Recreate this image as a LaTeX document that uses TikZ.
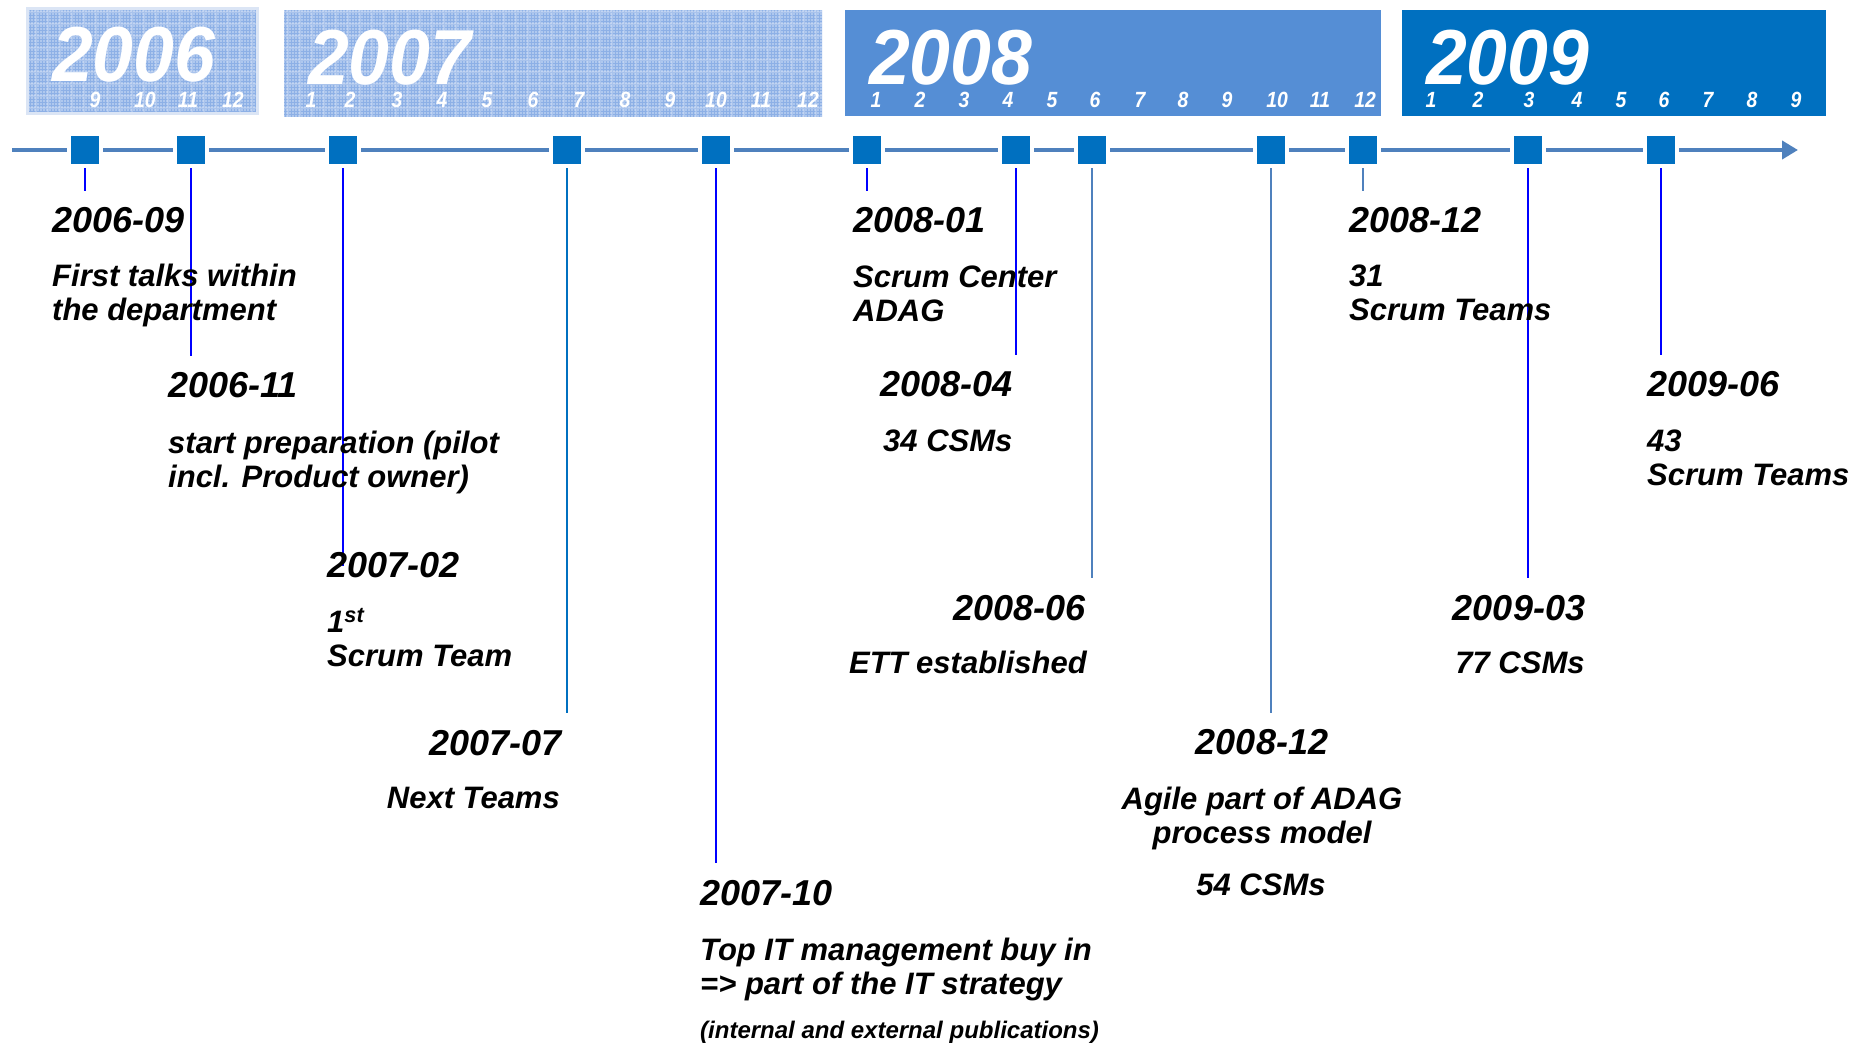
\documentclass[tikz,border=0pt]{standalone}
\usepackage{fontspec}
\setmainfont{Liberation Sans}
\usepackage{xcolor}
\usetikzlibrary{arrows.meta}

\definecolor{axisblue}{HTML}{4F81BD}
\definecolor{markblue}{HTML}{0070C0}
\definecolor{blueyear}{HTML}{558ED5}
\definecolor{paleblue}{HTML}{AFC8EE}
\definecolor{meshblue}{HTML}{8DB0E6}
\definecolor{rimblue}{HTML}{DBE5F5}
\definecolor{linkblue}{HTML}{0000FF}

\begin{document}
\begin{tikzpicture}[x=1pt,y=-1pt,
  msq/.style={draw=white,line width=4pt,fill=markblue,minimum size=32pt,inner sep=0pt},
  link/.style={line width=2pt},
  datelbl/.style={inner sep=0pt,font=\fontsize{36}{40}\selectfont\bfseries\itshape},
  desc/.style={inner sep=0pt,align=left,font=\fontsize{31}{34}\selectfont\bfseries\itshape},
  yearlbl/.style={inner sep=0pt,text depth=0pt,anchor=base west,text=white,font=\fontsize{78}{80}\selectfont\bfseries\itshape},
  monthlbl/.style={inner sep=0pt,text height=15pt,text depth=0pt,anchor=base,text=white,font=\fontsize{22}{24}\selectfont\bfseries\itshape}]
\useasboundingbox (0,0) rectangle (1873,1046);

% year bars
\fill[rimblue] (26,7) rectangle (259,115);
\foreach \xa/\ya/\xb/\yb in {29/10/256/112, 284/10/822/117}{
  \fill[paleblue] (\xa,\ya) rectangle (\xb,\yb);
  \begin{scope}
    \clip (\xa,\ya) rectangle (\xb,\yb);
    \draw[meshblue,line width=0.7pt,step=3pt] (\xa,\yb) grid (\xb,\ya);
    \draw[white,opacity=0.25,line width=2pt,step=12pt] (\xa,\yb) grid (\xb,\ya);
  \end{scope}
}
\fill[blueyear] (845,10) rectangle (1381,116);
\fill[markblue] (1402,10) rectangle (1826,116);

\foreach \yr/\x/\b in {2006/52/82, 2007/308/85, 2008/869/85, 2009/1426/85}
  \node[yearlbl] (yr\yr) at (\x,\b) {\scalebox{0.94}[1]{\yr}};

\foreach \yr/\m/\x in {6/9/95, 6/10/145, 6/11/188, 6/12/233,
    7/1/311, 7/2/350, 7/3/397, 7/4/442, 7/5/487, 7/6/533, 7/7/579, 7/8/625, 7/9/670, 7/10/716, 7/11/761, 7/12/808,
    8/1/876, 8/2/920, 8/3/964, 8/4/1008, 8/5/1052, 8/6/1095, 8/7/1140, 8/8/1183, 8/9/1227, 8/10/1277, 8/11/1320, 8/12/1365,
    9/1/1431, 9/2/1478, 9/3/1529, 9/4/1577, 9/5/1621, 9/6/1664, 9/7/1708, 9/8/1752, 9/9/1796}
  \node[monthlbl] (mo\yr-\m) at (\x,108) {\scalebox{0.88}[1]{\m}};

% time axis
\coordinate (axstart) at (12,150);
\coordinate (axend) at (1798,150);
\draw[axisblue,line width=4pt,-{Triangle[length=16pt,width=18pt]}] (axstart) -- (axend);

\foreach \i/\x in {1/84.5, 2/191, 3/343, 4/567, 5/715.5, 6/867, 7/1015.5, 8/1092, 9/1271, 10/1363, 11/1528, 12/1661}
  \node[msq] (m\i) at (\x,150) {};

\foreach \i/\e/\c in {1/191/linkblue, 2/356/linkblue, 3/566/linkblue, 4/713/markblue, 5/863/linkblue, 6/191/linkblue,
    7/355/linkblue, 8/578/axisblue, 9/713/axisblue, 10/191/axisblue, 11/578/linkblue, 12/355/linkblue}{
  \path (m\i.center) ++(0,\e-150) coordinate (e\i);
  \draw[link,\c] (m\i.south) -- (e\i);
}

% events (multi-line texts sit on the baseline of their last line)
\node[datelbl,anchor=base west] (d1) at (52,232) {2006-09};
\node[desc,anchor=base west] (t1) at (52,320) {First talks within\\the department};

\node[datelbl,anchor=base west] (d2) at (168,397) {2006-11};
\node[desc,anchor=base west] (t2) at (168,487) {start preparation (pilot\\incl. Product owner)};

\node[datelbl,anchor=base west] (d3) at (327,577) {2007-02};
\node[desc,anchor=base west] (t3) at (327,666) {1\textsuperscript{st}\\Scrum Team};

\node[datelbl,anchor=base east] (d4) at (562,755) {2007-07};
\node[desc,anchor=base east] (t4) at (560,808) {Next Teams};

\node[datelbl,anchor=base west] (d5) at (700,905) {2007-10};
\node[desc,anchor=base west] (t5) at (700,994) {Top IT management buy in\\=> part of the IT strategy};
\node[inner sep=0pt,anchor=base west,font=\fontsize{24}{26}\selectfont\bfseries\itshape] (p5) at (700,1038) {(internal and external publications)};

\node[datelbl,anchor=base west] (d6) at (853,232) {2008-01};
\node[desc,anchor=base west] (t6) at (853,321) {Scrum Center\\ADAG};

\node[datelbl,anchor=base west] (d7) at (880,396) {2008-04};
\node[desc,anchor=base west] (t7) at (883,451) {34 CSMs};

\node[datelbl,anchor=base east] (d8) at (1086,620) {2008-06};
\node[desc,anchor=base east] (t8) at (1087,673) {ETT established};

\node[datelbl,anchor=base] (d9) at (1262,754) {2008-12};
\node[desc,align=center,anchor=base] (t9) at (1262,843) {Agile part of ADAG\\process model};
\node[desc,anchor=base] (c9) at (1261,895) {54 CSMs};

\node[datelbl,anchor=base west] (d10) at (1349,232) {2008-12};
\node[desc,anchor=base west] (t10) at (1349,320) {31\\Scrum Teams};

\node[datelbl,anchor=base] (d11) at (1519,620) {2009-03};
\node[desc,anchor=base] (t11) at (1520,673) {77 CSMs};

\node[datelbl,anchor=base west] (d12) at (1647,396) {2009-06};
\node[desc,anchor=base west] (t12) at (1647,485) {43\\Scrum Teams};

\end{tikzpicture}
\end{document}
